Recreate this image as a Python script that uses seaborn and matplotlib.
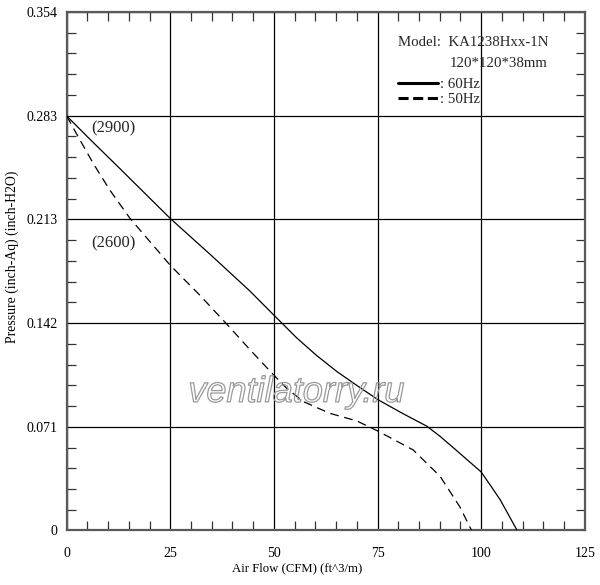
import numpy as np
import pandas as pd
import matplotlib
matplotlib.use("Agg")
import matplotlib.pyplot as plt
import matplotlib.patheffects as pe
from matplotlib.lines import Line2D
from matplotlib.ticker import MultipleLocator, FixedLocator
import seaborn as sns

# ---- data ----
flow_60 = [0, 6, 12.5, 25, 35, 44.2, 50, 55.5, 60.3, 65.2, 70.8, 75, 81, 86.9, 90, 93.3, 100, 102.2, 104.6, 108.7]
pres_60 = [0.283, 0.266, 0.248, 0.213, 0.1875, 0.1635, 0.147, 0.1315, 0.1195, 0.1085, 0.0975, 0.0895,
           0.080, 0.0712, 0.0645, 0.0565, 0.040, 0.031, 0.021, 0.0]
flow_50 = [0, 3.2, 6.4, 10.4, 15.3, 25, 32, 39.4, 44.2, 50, 53.1, 57.1, 63.5, 70, 75, 83.6, 90.1, 94.9, 97.7]
pres_50 = [0.283, 0.2666, 0.2506, 0.2324, 0.213, 0.181, 0.161, 0.1385, 0.1235, 0.106, 0.097, 0.088,
           0.080, 0.0748, 0.068, 0.055, 0.037, 0.016, 0.0]

x_ticks = [0, 25, 50, 75, 100, 125]
y_ticks = [0, 0.0708, 0.1416, 0.2124, 0.2832, 0.354]
y_tick_labels = ["0", "0.071", "0.142", "0.213", "0.283", "0.354"]
model_text = "Model:  KA1238Hxx-1N"
size_text = "120*120*38mm"
series_labels = [": 60Hz", ": 50Hz"]
rpm_labels = ["(2900)", "(2600)"]
rpm_x = [5.9, 5.9]
rpm_y = [0.2747, 0.1962]

sns.set_theme(style="white")
plt.rcParams["font.family"] = ["Liberation Serif", "DejaVu Serif"]

fig = plt.figure(figsize=(6.0, 5.85), dpi=100)
ax = fig.add_axes([0.1112, 0.0932, 0.8633, 0.8863])

df60 = pd.DataFrame({"flow": flow_60, "pressure": pres_60})
df50 = pd.DataFrame({"flow": flow_50, "pressure": pres_50})
sns.lineplot(data=df60, x="flow", y="pressure", ax=ax, color="black",
             lw=0.9, sort=False, estimator=None, zorder=3)
sns.lineplot(data=df50, x="flow", y="pressure", ax=ax, color="black",
             lw=0.9, sort=False, estimator=None, zorder=3)
ax.lines[-1].set_dashes((7, 4.5))

ax.set_xlim(0, 125)
ax.set_ylim(0, 0.354)
ax.xaxis.set_major_locator(FixedLocator(x_ticks))
ax.yaxis.set_major_locator(FixedLocator(y_ticks))
ax.set_yticklabels(y_tick_labels)
ax.xaxis.set_minor_locator(MultipleLocator(5))
ax.yaxis.set_minor_locator(MultipleLocator(0.354 / 25))
ax.grid(True, which="major", color="black", lw=0.9, zorder=1)
ax.tick_params(which="major", length=0, labelsize=10, colors="black")
ax.tick_params(axis="y", which="major", pad=6.5)
ax.tick_params(axis="x", which="major", pad=12)
ax.tick_params(which="minor", direction="in", length=6.5, width=0.9, color="#333333",
               top=True, right=True, bottom=True, left=True)
for s in ax.spines.values():
    s.set_color("#5a5a5a")
    s.set_linewidth(1.6)

ax.set_xlabel("Air Flow (CFM) (ft^3/m)", fontsize=9.2, color="black")
ax.set_ylabel("Pressure (inch-Aq) (inch-H2O)", fontsize=9.9, color="black")
ax.xaxis.set_label_coords(0.445, -0.062)
ax.yaxis.set_label_coords(-0.093, 0.527)

for lab, xx, yy in zip(rpm_labels, rpm_x, rpm_y):
    ax.text(xx, yy, lab, fontsize=12, va="center", ha="left")

ax.text(0.640, 0.942, model_text, transform=ax.transAxes, fontsize=10.7, va="center", ha="left")
ax.text(0.740, 0.9016, size_text, transform=ax.transAxes, fontsize=10.7, va="center", ha="left")

handles = [Line2D([], [], color="black", lw=2.2),
           Line2D([], [], color="black", lw=2.2, dashes=(3.3, 1.5))]
leg = ax.legend(handles, series_labels, loc="upper left", bbox_to_anchor=(0.640, 0.874),
                frameon=False, fontsize=10.7, handlelength=2.7, handletextpad=0.08,
                labelspacing=0.15, borderaxespad=0, borderpad=0)

ax.text(0.4436, 0.248, "ventilatorry.ru", transform=ax.transAxes, fontsize=26,
        family="Liberation Sans", style="italic", ha="center", va="baseline",
        color=(1, 1, 1, 0), zorder=4,
        path_effects=[pe.Stroke(linewidth=0.9, foreground="#999999")])

fig.savefig("out.png", dpi=100)
